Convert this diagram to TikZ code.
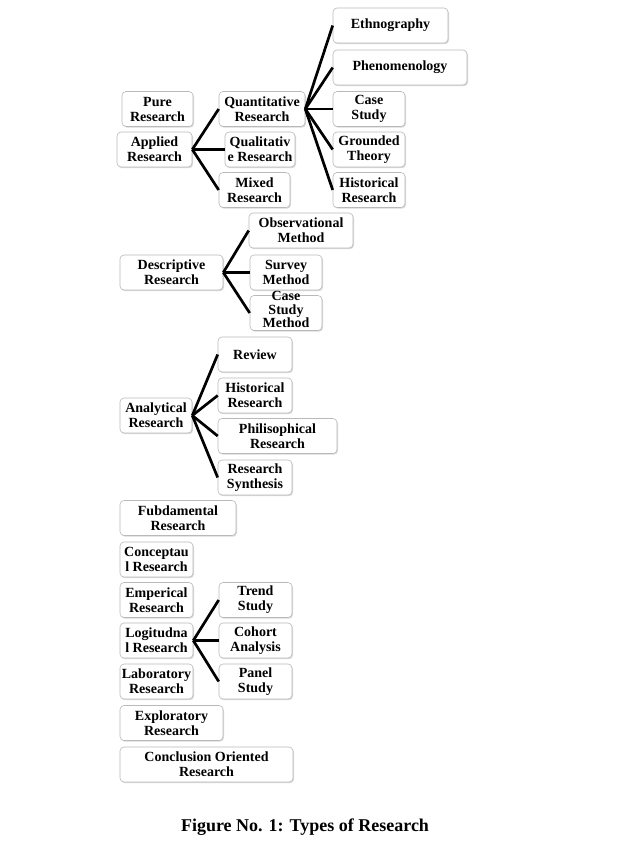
\documentclass[tikz,border=0pt]{standalone}
\usepackage{fontspec}
\setmainfont{Liberation Serif}
\usetikzlibrary{shadows}

\begin{document}
\begin{tikzpicture}[x=1pt,y=-1pt,
    box/.style={draw=gray!55, line width=0.6pt, rounded corners=4pt, fill=white,
      drop shadow={shadow xshift=1pt, shadow yshift=-1.2pt, opacity=0.3, fill=gray},
      minimum height=35pt, inner sep=1pt, align=center,
      font=\fontsize{14}{15}\selectfont\bfseries},
    link/.style={line width=2.7pt}]
    \useasboundingbox (0,0) rectangle (623,846);

    \node[box, minimum width=115pt] (ethno) at (390.5,25.5) {Ethnography};
    \node[box, minimum width=134pt] (phen) at (400,67.5) {Phenomenology};
    \node[box, minimum width=72pt] (casest) at (369,109) {Case\\Study};
    \node[box, minimum width=72pt] (grounded) at (369,149.5) {Grounded\\Theory};
    \node[box, minimum width=72pt] (histq) at (369,190) {Historical\\Research};
    \node[box, minimum width=71pt] (pure) at (157.5,109) {Pure\\Research};
    \node[box, minimum width=75pt] (applied) at (154.5,149.5) {Applied\\Research};
    \node[box, minimum width=86pt] (quant) at (262,109) {Quantitative\\Research};
    \node[box, minimum width=70pt] (qual) at (260,149.5) {Qualitativ\\e Research};
    \node[box, minimum width=71pt] (mixed) at (254.5,190) {Mixed\\Research};

    \node[box, minimum width=104pt] (obs) at (301,230.5) {Observational\\Method};
    \node[box, minimum width=103pt] (descr) at (171.5,272.5) {Descriptive\\Research};
    \node[box, minimum width=72pt] (survey) at (286,272.5) {Survey\\Method};
    \node[box, minimum width=72pt] (casem) at (286,313) {\smash{\raisebox{-2pt}{\def\arraystretch{0.85}\begin{tabular}{@{}c@{}}Case\\Study\\Method\end{tabular}}}};

    \node[box, minimum width=74pt] (review) at (255,354.5) {Review};
    \node[box, minimum width=74pt] (histr) at (255,395.5) {Historical\\Research};
    \node[box, minimum width=119pt] (phil) at (277.5,436) {Philisophical\\Research};
    \node[box, minimum width=74pt] (synth) at (255,477.5) {Research\\Synthesis};
    \node[box, minimum width=72pt] (analyt) at (156,415.5) {Analytical\\Research};

    \node[box, minimum width=116pt] (fund) at (178,518) {Fubdamental\\Research};
    \node[box, minimum width=73pt] (concept) at (156.5,559.5) {Conceptau\\l Research};
    \node[box, minimum width=73pt] (emper) at (156.5,600) {Emperical\\Research};
    \node[box, minimum width=73pt] (longit) at (156.5,640.5) {Logitudna\\l Research};
    \node[box, minimum width=73pt] (lab) at (156.5,681.5) {Laboratory\\Research};
    \node[box, minimum width=103pt] (explor) at (171.5,723) {Exploratory\\Research};
    \node[box, minimum width=173pt] (concl) at (206.5,764.5) {Conclusion Oriented\\Research};
    \node[box, minimum width=73pt] (trend) at (255.5,600) {Trend\\Study};
    \node[box, minimum width=73pt] (cohort) at (255.5,640.5) {Cohort\\Analysis};
    \node[box, minimum width=73pt] (panel) at (255.5,681.5) {Panel\\Study};

    \draw[link] (applied.east) -- (quant.west);
    \draw[link] (applied.east) -- (qual.west);
    \draw[link] (applied.east) -- (mixed.west);
    \draw[link] (quant.east) -- (ethno.west);
    \draw[link] (quant.east) -- (phen.west);
    \draw[link] (quant.east) -- (casest.west);
    \draw[link] (quant.east) -- (grounded.west);
    \draw[link] (quant.east) -- (histq.west);
    \draw[link] (descr.east) -- (obs.west);
    \draw[link] (descr.east) -- (survey.west);
    \draw[link] (descr.east) -- (casem.west);
    \draw[link] (analyt.east) -- (review.west);
    \draw[link] (analyt.east) -- (histr.west);
    \draw[link] (analyt.east) -- (phil.west);
    \draw[link] (analyt.east) -- (synth.west);
    \draw[link] (longit.east) -- (trend.west);
    \draw[link] (longit.east) -- (cohort.west);
    \draw[link] (longit.east) -- (panel.west);

    \node[font=\fontsize{18}{20}\selectfont\bfseries] (caption) at (305,827) {Figure No. 1: Types of Research};
\end{tikzpicture}
\end{document}
